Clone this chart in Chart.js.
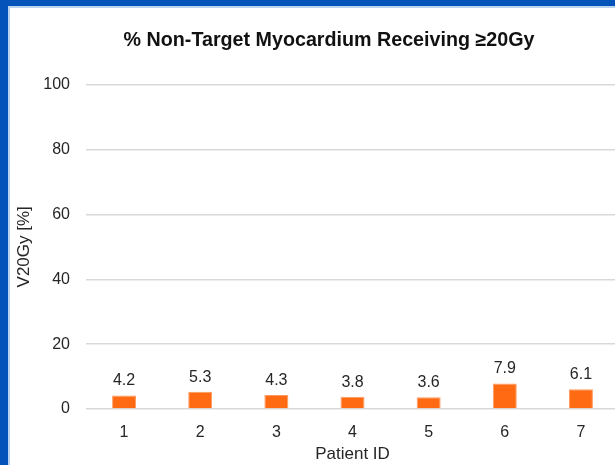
<!DOCTYPE html>
<html>
<head>
<meta charset="utf-8">
<script src="https://cdn.jsdelivr.net/npm/chart.js@4/dist/chart.umd.min.js"></script>
<style>
  html, body { margin: 0; padding: 0; background: #ffffff; }
  body { width: 615px; height: 465px; overflow: hidden; position: relative; }
  .frame-left { position: absolute; left: 0; top: 0; width: 8px; height: 465px; background: #0453BA; z-index: 3; }
  .frame-left-edge { position: absolute; left: 8px; top: 8px; width: 2px; height: 457px; background: #BCD3F0; z-index: 3; }
  .frame-top { position: absolute; left: 0; top: 0; width: 615px; height: 6px; background: #0453BA; z-index: 3; }
  .frame-top-edge { position: absolute; left: 8px; top: 6px; width: 607px; height: 2px; background: #BCD3F0; z-index: 3; }
  #wrap { position: absolute; left: 10px; top: 8px; width: 638px; height: 457px; }
</style>
</head>
<body>
<div class="frame-left"></div>
<div class="frame-left-edge"></div>
<div class="frame-top"></div>
<div class="frame-top-edge"></div>
<div id="wrap"><canvas id="chart"></canvas></div>
<script>
// Patient IDs along the x axis and their V20Gy values (%)
const patientIds = ['1', '2', '3', '4', '5', '6', '7'];
const v20Values = [4.2, 5.3, 4.3, 3.8, 3.6, 7.9, 6.1];
const yTicks = [0, 20, 40, 60, 80, 100];

const FONT = '"Liberation Sans", Arial, sans-serif';
const TEXT_COLOR = '#262626';

// Writes each bar's value just above it
const valueLabels = {
  id: 'valueLabels',
  afterDatasetsDraw(chart) {
    const ctx = chart.ctx;
    const meta = chart.getDatasetMeta(0);
    ctx.save();
    ctx.font = '16px ' + FONT;
    ctx.fillStyle = TEXT_COLOR;
    ctx.textAlign = 'center';
    ctx.textBaseline = 'alphabetic';
    meta.data.forEach((bar, i) => {
      const v = chart.data.datasets[0].data[i];
      ctx.fillText(v.toFixed(1), bar.x, bar.y - 10);
    });
    ctx.restore();
  }
};

new Chart(document.getElementById('chart'), {
  type: 'bar',
  data: {
    labels: patientIds,
    datasets: [{
      data: v20Values,
      backgroundColor: '#FF6A13',
      borderColor: '#FF9A60',
      borderWidth: 1,
      categoryPercentage: 1,
      barPercentage: 0.315
    }]
  },
  options: {
    responsive: true,
    maintainAspectRatio: false,
    animation: false,
    layout: { padding: { left: 0, right: 0, top: 0, bottom: 0 } },
    plugins: {
      legend: { display: false },
      tooltip: { enabled: false },
      title: {
        display: true,
        text: '% Non-Target Myocardium Receiving \u226520Gy',
        color: '#111111',
        font: { family: FONT, size: 19.7, weight: 'bold' },
        padding: { top: 21, bottom: 32 }
      }
    },
    scales: {
      x: {
        grid: { display: false, drawTicks: false },
        border: { display: false },
        ticks: { color: TEXT_COLOR, font: { family: FONT, size: 16 }, padding: 14 },
        title: {
          display: true,
          text: 'Patient ID',
          color: TEXT_COLOR,
          font: { family: FONT, size: 17 },
          padding: { top: 6, bottom: 0 }
        },
        afterFit(scale) { scale.height = 56; }
      },
      y: {
        min: 0,
        max: 100,
        afterBuildTicks(scale) { scale.ticks = yTicks.map(v => ({ value: v })); },
        grid: { color: '#d9d9d9', lineWidth: 1.5, drawTicks: false },
        border: { display: false },
        ticks: { color: TEXT_COLOR, font: { family: FONT, size: 16 }, padding: 16 },
        title: {
          display: true,
          text: 'V20Gy [%]',
          color: TEXT_COLOR,
          font: { family: FONT, size: 17 },
          padding: { top: 4, bottom: 0 }
        },
        afterFit(scale) { scale.width = 76; }
      },
      yRight: {
        type: 'linear',
        position: 'right',
        display: true,
        grid: { display: false, drawTicks: false },
        border: { display: false },
        ticks: { display: false },
        afterFit(scale) { scale.width = 29; }
      }
    }
  },
  plugins: [valueLabels]
});
</script>
</body>
</html>
